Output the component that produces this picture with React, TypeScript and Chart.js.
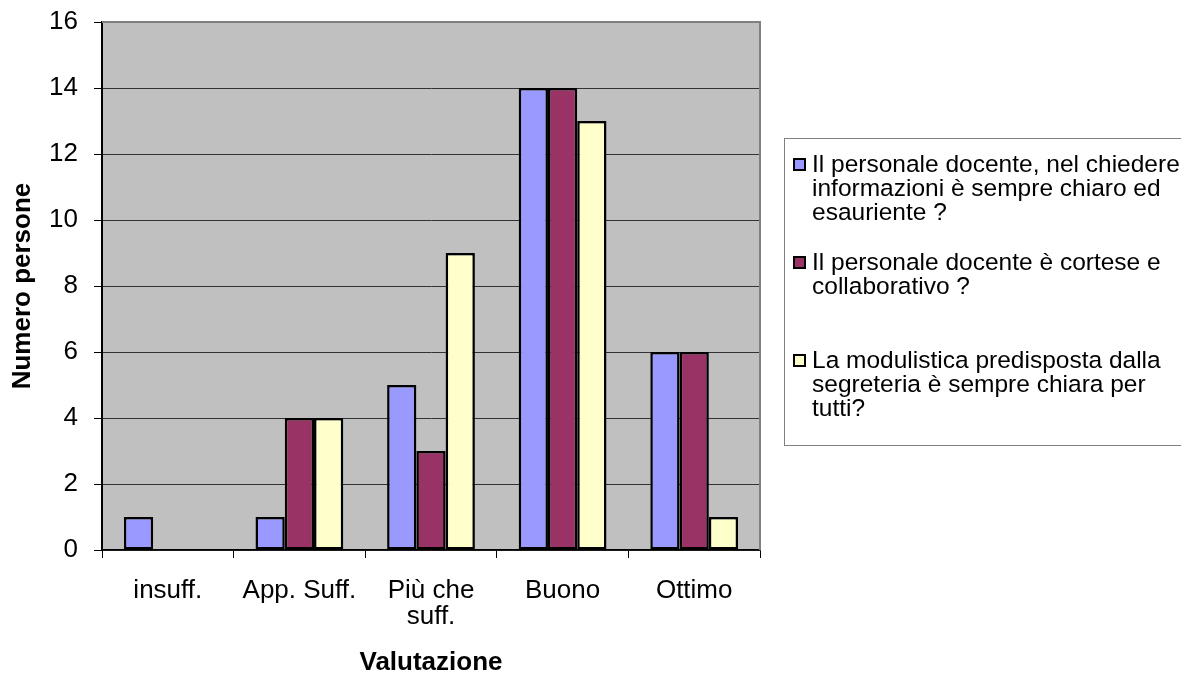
import React, { useEffect, useRef } from 'react';
import { Chart, registerables } from 'chart.js';

Chart.register(...registerables);

const categories: string[][] = [['insuff.'], ['App. Suff.'], ['Più che', 'suff.'], ['Buono'], ['Ottimo']];
const seriesNames = [
  'Il personale docente, nel chiedere informazioni è sempre chiaro ed esauriente ?',
  'Il personale docente è cortese e collaborativo ?',
  'La modulistica predisposta dalla segreteria è sempre chiara per tutti?',
];
const chiaroEsauriente = [1, 1, 5, 14, 6];
const cortese = [0, 4, 3, 14, 6];
const modulistica = [0, 4, 9, 13, 1];
const seriesColors = ['#9999FF', '#993366', '#FFFFCC'];
const yMin = 0;
const yMax = 16;
const yStep = 2;
const yTitle = 'Numero persone';
const xTitle = 'Valutazione';

const FONT = "'Liberation Sans', Arial, sans-serif";

const plotFrame = {
  id: 'plotFrame',
  beforeDraw(chart: any) {
    const { ctx, chartArea: a } = chart;
    ctx.save();
    ctx.fillStyle = '#C0C0C0';
    ctx.fillRect(a.left, a.top, a.right - a.left, a.bottom - a.top);
    ctx.restore();
  },
  afterDraw(chart: any) {
    const { ctx, chartArea: a } = chart;
    ctx.save();
    ctx.strokeStyle = '#808080';
    ctx.lineWidth = 2;
    ctx.beginPath();
    ctx.moveTo(a.left, a.top);
    ctx.lineTo(a.right, a.top);
    ctx.lineTo(a.right, a.bottom);
    ctx.stroke();
    ctx.restore();
  },
};

export default function App() {
  const canvasRef = useRef<HTMLCanvasElement | null>(null);

  useEffect(() => {
    const canvas = canvasRef.current;
    if (!canvas) return;
    const values = [chiaroEsauriente, cortese, modulistica];
    const chart = new Chart(canvas, {
      type: 'bar',
      data: {
        labels: categories as any,
        datasets: values.map((v, i) => ({
          label: seriesNames[i],
          data: v,
          backgroundColor: seriesColors[i],
          borderColor: '#000000',
          borderWidth: (c: any) => (c.raw === 0 ? 0 : 2.5),
          borderSkipped: false,
          categoryPercentage: 0.667,
          barPercentage: 1,
        })),
      },
      options: {
        responsive: false,
        animation: false,
        events: [],
        layout: { padding: { top: 22, right: 421, left: 0, bottom: 0 } },
        plugins: {
          legend: { display: false },
          tooltip: { enabled: false },
        },
        scales: {
          x: {
            afterFit: (s: any) => {
              s.height = 127;
              s.paddingLeft = 0;
              s.paddingRight = 0;
            },
            grid: {
              display: true,
              drawOnChartArea: false,
              offset: true,
              tickLength: 8,
              color: '#000000',
              tickColor: '#000000',
            },
            border: { color: '#000000', width: 1.5 },
            ticks: {
              color: '#000000',
              font: { family: FONT, size: 26, lineHeight: 1.0 },
              padding: 20,
              maxRotation: 0,
              autoSkip: false,
            },
            title: {
              display: true,
              text: xTitle,
              color: '#000000',
              font: { family: FONT, size: 26, weight: 'bold', lineHeight: 1 },
              padding: { top: 0, bottom: 1 },
            },
          },
          y: {
            min: yMin,
            max: yMax,
            afterFit: (s: any) => {
              s.width = 102;
              s.paddingTop = 0;
              s.paddingBottom = 0;
            },
            grid: {
              color: '#333333',
              lineWidth: 1,
              tickLength: 8,
              tickColor: '#000000',
            },
            border: { color: '#000000', width: 2 },
            ticks: {
              stepSize: yStep,
              color: '#000000',
              font: { family: FONT, size: 26 },
              padding: 16,
            },
            title: {
              display: true,
              text: yTitle,
              color: '#000000',
              font: { family: FONT, size: 26, weight: 'bold', lineHeight: 1 },
              padding: { top: 10, bottom: 0 },
            },
          },
        },
      },
      plugins: [plotFrame],
    });
    return () => chart.destroy();
  }, []);

  const legendItem = (i: number) => (
    <div key={i} style={{ position: 'relative', height: 98, paddingLeft: 27 }}>
      <div
        style={{
          position: 'absolute',
          left: 8,
          top: 6,
          width: 9,
          height: 9,
          border: '2px solid #000',
          background: seriesColors[i],
        }}
      />
      <div style={{ width: 380, fontSize: 24.5, lineHeight: '24px', whiteSpace: 'normal' }}>{seriesNames[i]}</div>
    </div>
  );

  return (
    <div
      style={{
        position: 'absolute',
        left: 0,
        top: 0,
        width: 1181,
        height: 677,
        overflow: 'hidden',
        background: '#ffffff',
        fontFamily: FONT,
        color: '#000',
      }}
    >
      <canvas ref={canvasRef} width={1181} height={677} style={{ display: 'block' }} />
      <div
        style={{
          position: 'absolute',
          left: 784,
          top: 138,
          width: 420,
          height: 308,
          border: '1px solid #808080',
          boxSizing: 'border-box',
          paddingTop: 13,
        }}
      >
        {[0, 1, 2].map(legendItem)}
      </div>
    </div>
  );
}
